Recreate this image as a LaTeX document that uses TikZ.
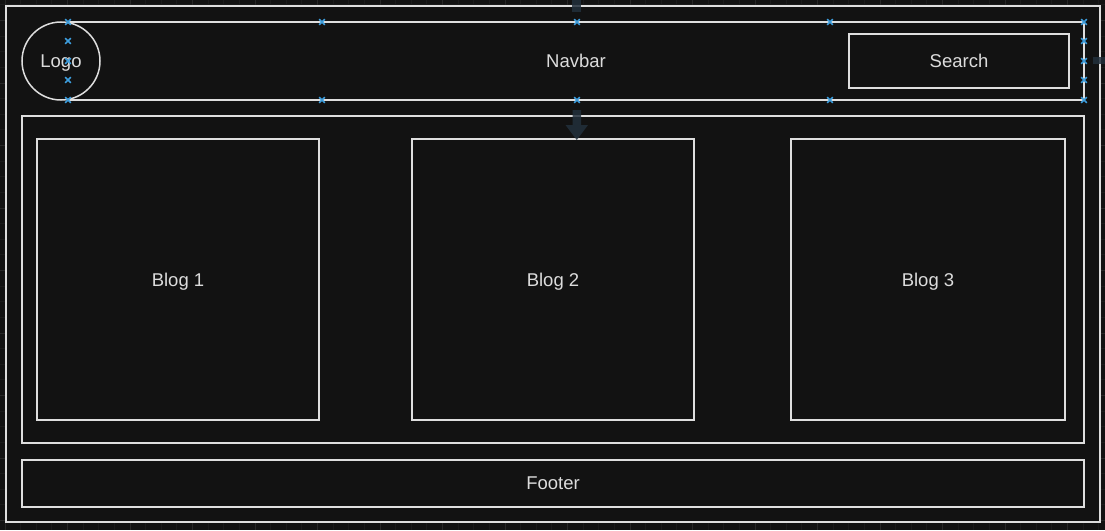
\documentclass[tikz,border=0pt]{standalone}
\usepackage{fontspec}
\setmainfont{Liberation Sans}
\definecolor{bg}{HTML}{121212}
\definecolor{gridminor}{HTML}{1B1B1B}
\definecolor{gridmajor}{HTML}{272727}
\definecolor{linec}{HTML}{DEDEDE}
\definecolor{txt}{HTML}{DCDCDC}
\definecolor{handle}{HTML}{3D9DDC}
\definecolor{hint}{HTML}{22303C}
\begin{document}
\begin{tikzpicture}[x=1pt,y=-1pt,
  box/.style={draw=linec, line width=1.5pt, fill=bg, inner sep=0pt, text=txt,
    font=\fontsize{18.5}{22}\selectfont, text depth=0pt},
  rbox/.style={box, rectangle},
  cbox/.style={box, circle},
  gmin/.style={draw=gridminor, line width=1pt},
  gmaj/.style={draw=gridmajor, line width=1pt},
  handlemark/.style={draw=handle, line width=1.7pt},
  hintshape/.style={fill=hint, fill opacity=0.85}]
\useasboundingbox (0,0) rectangle (1105,530);
\fill[bg] (0,0) rectangle (1105,530);
% grid
\foreach \i in {0,...,70} \draw[gmin] ({5+15.625*\i},0) -- ++(0,530);
\foreach \i in {0,...,34} \draw[gmin] (0,{4.875+15.625*\i}) -- ++(1105,0);
\foreach \i in {0,...,17} \draw[gmaj] ({5+62.5*\i},0) -- ++(0,530);
\foreach \i in {0,...,8} \draw[gmaj] (0,{20.5+62.5*\i}) -- ++(1105,0);
% frame
\node[rbox, minimum width=1094pt, minimum height=516pt] (page) at (553,264) {};
% navbar
\node[rbox, minimum width=1016pt, minimum height=78pt] (nav) at (576,61) {Navbar};
\node[cbox, minimum size=78pt] (logo) at (61,61) {Logo};
\node[rbox, minimum width=220pt, minimum height=54pt] (search) at (959,61) {Search};
% content
\node[rbox, minimum width=1062pt, minimum height=327pt] (main) at (553,279.5) {};
\node[rbox, minimum width=282pt, minimum height=281pt] (blog1) at (178,279.5) {Blog 1};
\node[rbox, minimum width=282pt, minimum height=281pt] (blog2) at (553,279.5) {Blog 2};
\node[rbox, minimum width=274pt, minimum height=281pt] (blog3) at (928,279.5) {Blog 3};
\node[rbox, minimum width=1062pt, minimum height=47pt] (footer) at (553,483.5) {Footer};
% hover hints
\fill[hintshape] (572,0) rectangle (581,12);
\fill[hintshape] (572.5,110) -- (581,110) -- (581,125) -- (588,125) -- (576.8,140)
  -- (565.5,125) -- (572.5,125) -- cycle;
\fill[hintshape] (1093,57) rectangle (1105,64);
% selection handles
\foreach \x/\y in {68/22,322/22,577/22,830/22,1084/22,
                   68/100,322/100,577/100,830/100,1084/100,
                   68/41,68/61,68/80,1084/41,1084/61,1084/80}
  \draw[handlemark] (\x-2.8,\y-2.8) -- (\x+2.8,\y+2.8) (\x-2.8,\y+2.8) -- (\x+2.8,\y-2.8);
\end{tikzpicture}
\end{document}
